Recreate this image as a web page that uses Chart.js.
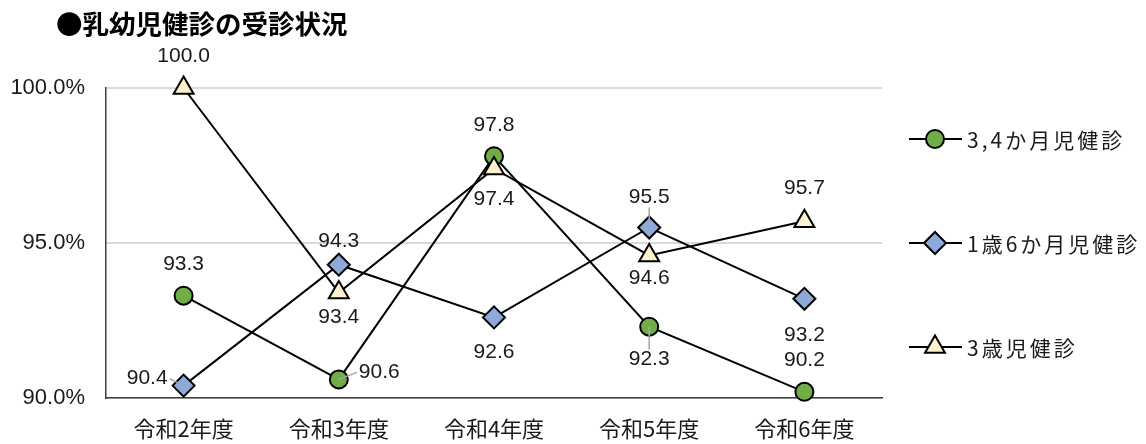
<!DOCTYPE html>
<html lang="ja">
<head>
<meta charset="utf-8">
<title>乳幼児健診の受診状況</title>
<script src="https://cdn.jsdelivr.net/npm/chart.js@4.4.1/dist/chart.umd.min.js"></script>
<style>
  html, body { margin: 0; padding: 0; background: #ffffff; }
  #wrap { width: 1146px; height: 444px; position: relative; }
</style>
</head>
<body>
<div id="wrap"><canvas id="chart" width="1146" height="444"></canvas></div>
<script>
// 受診率（%）
const categories = ['令和2年度', '令和3年度', '令和4年度', '令和5年度', '令和6年度'];
const infant34 = [93.3, 90.6, 97.8, 92.3, 90.2];   // 3,4か月児健診
const toddler18 = [90.4, 94.3, 92.6, 95.5, 93.2];  // 1歳6か月児健診
const child3 = [100.0, 93.4, 97.4, 94.6, 95.7];    // 3歳児健診
const seriesNames = ['3,4か月児健診', '1歳6か月児健診', '3歳児健診'];
const yTicks = [90, 95, 100];
const chartTitle = '●乳幼児健診の受診状況';

const NUM_FONT = "'Liberation Sans', 'Noto Sans CJK JP', sans-serif";
const JP_FONT = "'Noto Sans CJK JP', 'Liberation Sans', sans-serif";
const TEXT = '#1a1a1a';

// where each value label sits relative to its marker
const labelPlacement = [
  [{ a: 'top', d: 31 }, { a: 'right', d: 20, dy: -7, leader: true }, { a: 'top', d: 31 }, { a: 'bottom', d: 33, leader: true }, { a: 'top', d: 32 }],
  [{ a: 'left', d: 16, dy: -7, leader: true }, { a: 'top', d: 23 }, { a: 'bottom', d: 35 }, { a: 'top', d: 30, leader: true }, { a: 'bottom', d: 36 }],
  [{ a: 'top', d: 32 }, { a: 'bottom', d: 25 }, { a: 'bottom', d: 31 }, { a: 'bottom', d: 23 }, { a: 'top', d: 33 }]
];

const styles = [
  { pointStyle: 'circle', radius: 9, fill: '#70AD47' },
  { pointStyle: 'rectRot', radius: 11, fill: '#8EA9DB' },
  { pointStyle: 'triangle', radius: 11.5, fill: '#FFF2CC' }
];

const values = [infant34, toddler18, child3];
const datasets = values.map((vals, i) => ({
  label: seriesNames[i],
  data: vals,
  borderColor: '#000000',
  borderWidth: 2,
  backgroundColor: styles[i].fill,
  pointStyle: styles[i].pointStyle,
  pointRadius: styles[i].radius,
  pointHoverRadius: styles[i].radius,
  pointBackgroundColor: styles[i].fill,
  pointBorderColor: '#000000',
  pointBorderWidth: 2,
  tension: 0,
  fill: false,
  clip: false,
  order: 2 - i
}));

const titlePlugin = {
  id: 'titleText',
  afterDraw(chart) {
    const ctx = chart.ctx;
    ctx.save();
    ctx.font = "bold 26.5px " + JP_FONT;
    ctx.fillStyle = '#000000';
    ctx.textAlign = 'left';
    ctx.textBaseline = 'middle';
    ctx.fillText(chartTitle, 56, 24);
    ctx.restore();
  }
};

const valueLabels = {
  id: 'valueLabels',
  afterDatasetsDraw(chart) {
    const ctx = chart.ctx;
    ctx.save();
    ctx.font = "21px " + NUM_FONT;
    ctx.fillStyle = TEXT;
    chart.data.datasets.forEach((ds, di) => {
      const meta = chart.getDatasetMeta(di);
      meta.data.forEach((pt, pi) => {
        const p = labelPlacement[di][pi];
        const text = ds.data[pi].toFixed(1);
        let x = pt.x, y = pt.y, align = 'center';
        let lx1, ly1;
        if (p.a === 'top') { y = pt.y - p.d; lx1 = pt.x; ly1 = y + 10; }
        else if (p.a === 'bottom') { y = pt.y + p.d; lx1 = pt.x; ly1 = y - 10; }
        else if (p.a === 'right') { x = pt.x + p.d; y = pt.y + (p.dy || 0); align = 'left'; lx1 = x - 2; ly1 = y; }
        else { x = pt.x - p.d; y = pt.y + (p.dy || 0); align = 'right'; lx1 = x + 2; ly1 = y; }
        if (p.leader) {
          ctx.save();
          ctx.strokeStyle = '#a6a6a6';
          ctx.lineWidth = 1.5;
          ctx.beginPath();
          ctx.moveTo(lx1, ly1);
          ctx.lineTo(pt.x, pt.y);
          ctx.stroke();
          ctx.restore();
        }
        ctx.textAlign = align;
        ctx.textBaseline = 'middle';
        ctx.fillText(text, x, y);
      });
    });
    ctx.restore();
  }
};

const sideLegend = {
  id: 'sideLegend',
  afterDraw(chart) {
    const ctx = chart.ctx;
    const rows = [139, 243, 347];
    ctx.save();
    chart.data.datasets.forEach((ds, i) => {
      const y = rows[i];
      ctx.strokeStyle = '#000000';
      ctx.lineWidth = 2;
      ctx.beginPath();
      ctx.moveTo(909, y);
      ctx.lineTo(962, y);
      ctx.stroke();
      ctx.fillStyle = ds.pointBackgroundColor;
      ctx.strokeStyle = '#000000';
      ctx.lineWidth = 2;
      Chart.helpers.drawPoint(ctx, {
        pointStyle: ds.pointStyle,
        radius: ds.pointRadius,
        rotation: 0,
        borderWidth: 2
      }, 935, y);
      ctx.fillStyle = TEXT;
      ctx.font = "21px " + JP_FONT;
      if ('letterSpacing' in ctx) ctx.letterSpacing = '3px';
      ctx.textAlign = 'left';
      ctx.textBaseline = 'middle';
      ctx.fillText(ds.label, 967, y + 1);
      if ('letterSpacing' in ctx) ctx.letterSpacing = '0px';
    });
    ctx.restore();
  }
};

new Chart(document.getElementById('chart'), {
  type: 'line',
  data: { labels: categories, datasets },
  options: {
    responsive: false,
    animation: false,
    events: [],
    layout: { padding: { left: 0, right: 264, top: 88, bottom: 0 } },
    plugins: {
      legend: { display: false },
      title: { display: false },
      tooltip: { enabled: false }
    },
    scales: {
      x: {
        type: 'category',
        offset: true,
        grid: { display: false, drawTicks: false },
        border: { display: true, color: '#3f3f3f', width: 1.5 },
        ticks: {
          color: TEXT,
          font: { family: JP_FONT, size: 22 },
          padding: 17,
          maxRotation: 0
        },
        afterFit(s) { s.height = 46; }
      },
      y: {
        min: yTicks[0],
        max: yTicks[yTicks.length - 1],
        afterBuildTicks(s) { s.ticks = yTicks.map(v => ({ value: v })); },
        grid: { color: '#d9d9d9', lineWidth: 2, drawTicks: false },
        border: { display: true, color: '#3f3f3f', width: 1.5 },
        ticks: {
          color: TEXT,
          font: { family: NUM_FONT, size: 22 },
          padding: 21,
          callback: v => Number(v).toFixed(1) + '%'
        },
        afterFit(s) { s.width = 106; }
      }
    }
  },
  plugins: [titlePlugin, valueLabels, sideLegend]
});
</script>
</body>
</html>
